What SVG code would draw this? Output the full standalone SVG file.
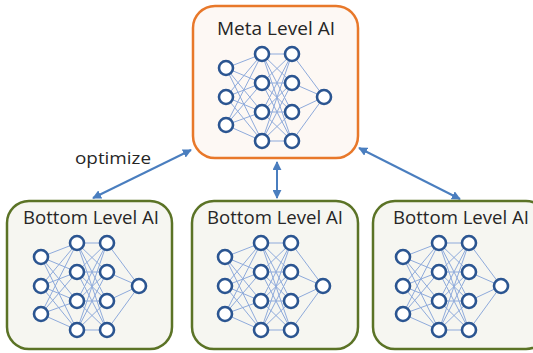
<svg xmlns="http://www.w3.org/2000/svg" xmlns:xlink="http://www.w3.org/1999/xlink" width="533" height="353" viewBox="0 0 533 353">
<defs>
<style>
.meta{fill:#fdf8f4;stroke:#e8782a;stroke-width:2.5}
.bot{fill:#f6f6f1;stroke:#5b7326;stroke-width:2.5}
.title{font-family:"Open Sans","Liberation Sans",sans-serif;font-size:18px;fill:#262626}
.lbl{font-family:"Open Sans","Liberation Sans",sans-serif;font-size:15.5px;fill:#262626}
.e{stroke:#8eaadb;stroke-width:1;fill:none}
.n{fill:#ffffff;stroke:#2b5591;stroke-width:2.6}
.arr{stroke:#4a7ebf;stroke-width:2;fill:none;marker-start:url(#ah);marker-end:url(#ah)}
</style>
<marker id="ah" viewBox="0 0 10 10" refX="9" refY="5" markerWidth="4.5" markerHeight="4.5" orient="auto-start-reverse" markerUnits="strokeWidth">
<path d="M0,0 L10,5 L0,10 z" fill="#4a7ebf"/>
</marker>
<g id="net">
<g class="e">
<path d="M0,-29 L36,-43 M0,-29 L36,-14 M0,-29 L36,15 M0,-29 L36,44 M0,0 L36,-43 M0,0 L36,-14 M0,0 L36,15 M0,0 L36,44 M0,28 L36,-43 M0,28 L36,-14 M0,28 L36,15 M0,28 L36,44"/>
<path d="M36,-43 L66,-43 M36,-43 L66,-14 M36,-43 L66,15 M36,-43 L66,44 M36,-14 L66,-43 M36,-14 L66,-14 M36,-14 L66,15 M36,-14 L66,44 M36,15 L66,-43 M36,15 L66,-14 M36,15 L66,15 M36,15 L66,44 M36,44 L66,-43 M36,44 L66,-14 M36,44 L66,15 M36,44 L66,44"/>
<path d="M66,-43 L98,0 M66,-14 L98,0 M66,15 L98,0 M66,44 L98,0"/>
</g>
<circle class="n" cx="0" cy="-29" r="7"/>
<circle class="n" cx="0" cy="0" r="7"/>
<circle class="n" cx="0" cy="28" r="7"/>
<circle class="n" cx="36" cy="-43" r="7"/>
<circle class="n" cx="36" cy="-14" r="7"/>
<circle class="n" cx="36" cy="15" r="7"/>
<circle class="n" cx="36" cy="44" r="7"/>
<circle class="n" cx="66" cy="-43" r="7"/>
<circle class="n" cx="66" cy="-14" r="7"/>
<circle class="n" cx="66" cy="15" r="7"/>
<circle class="n" cx="66" cy="44" r="7"/>
<circle class="n" cx="98" cy="0" r="7"/>
</g>
</defs>
<rect width="533" height="353" fill="#ffffff"/>
<g id="connectors">
<line class="arr" x1="191" y1="150" x2="93" y2="198"/>
<line class="arr" x1="277" y1="162" x2="277" y2="198"/>
<line class="arr" x1="359" y1="148" x2="460" y2="199"/>
</g>
<text class="lbl" x="75" y="164" textLength="76" lengthAdjust="spacingAndGlyphs">optimize</text>
<g id="meta">
<rect class="meta" x="193" y="6" width="165" height="152" rx="22"/>
<text class="title" x="217" y="35" textLength="118" lengthAdjust="spacingAndGlyphs">Meta Level AI</text>
<use xlink:href="#net" x="226" y="97"/>
</g>
<g id="bottom1">
<rect class="bot" x="7" y="201" width="165" height="148" rx="22"/>
<text class="title" x="23" y="224" textLength="136" lengthAdjust="spacingAndGlyphs">Bottom Level AI</text>
<use xlink:href="#net" x="41" y="286"/>
</g>
<g id="bottom2">
<rect class="bot" x="192" y="201" width="166" height="148" rx="22"/>
<text class="title" x="207" y="224" textLength="136" lengthAdjust="spacingAndGlyphs">Bottom Level AI</text>
<use xlink:href="#net" x="225" y="286"/>
</g>
<g id="bottom3">
<rect class="bot" x="373" y="201" width="175" height="148" rx="22"/>
<text class="title" x="393" y="224" textLength="136" lengthAdjust="spacingAndGlyphs">Bottom Level AI</text>
<use xlink:href="#net" x="403" y="286"/>
</g>
</svg>
